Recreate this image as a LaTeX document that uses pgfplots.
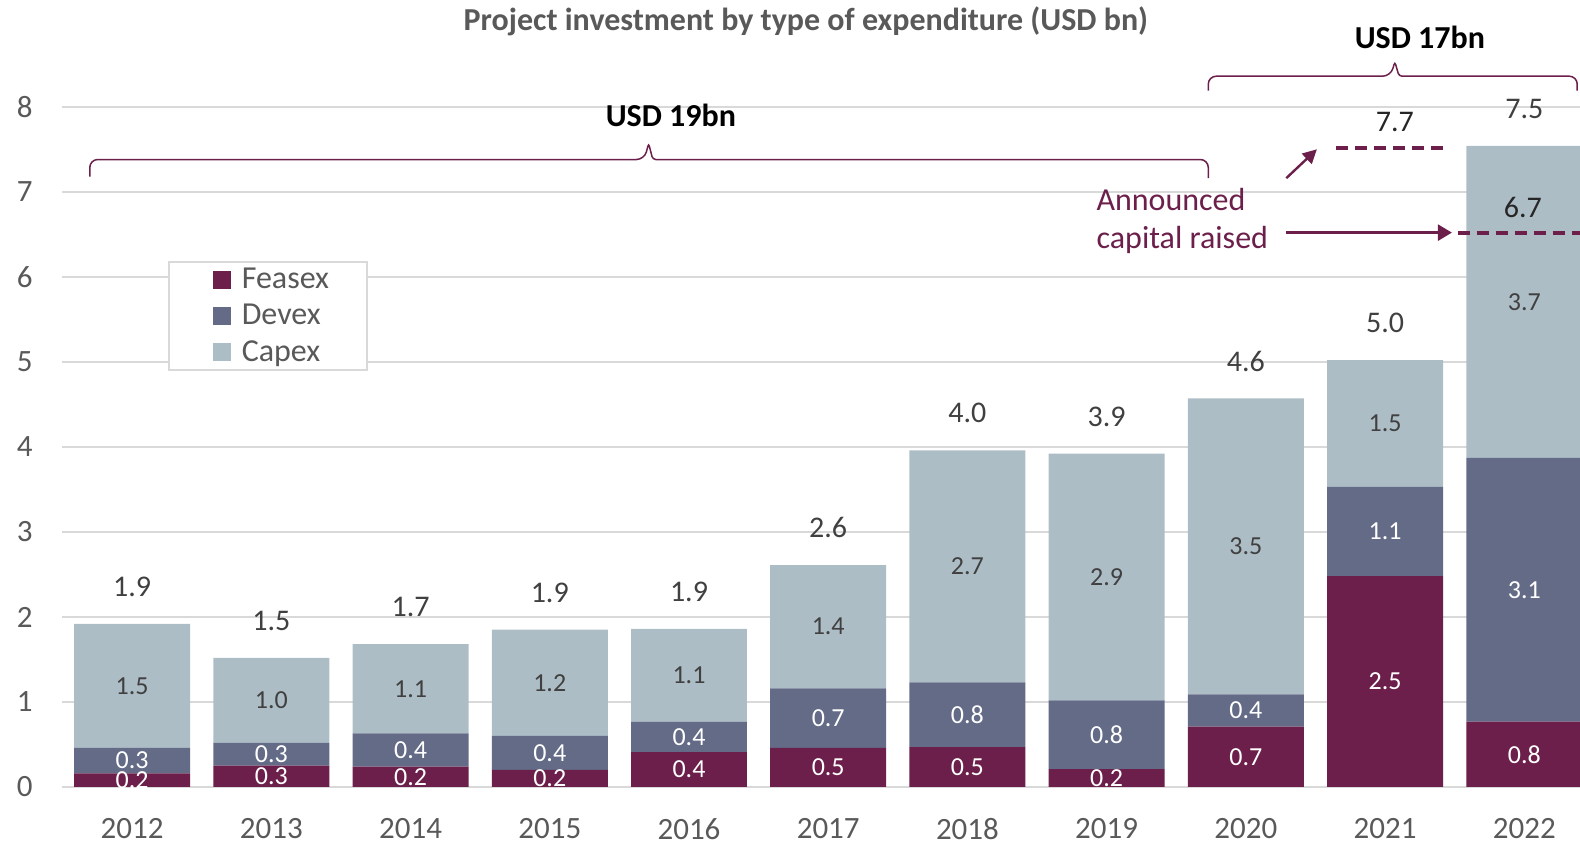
\documentclass[border=0pt]{standalone}
\usepackage{fontspec}
\setmainfont{Carlito}
\usepackage{pgfplots}
\pgfplotsset{compat=1.18}
\usepackage{pgfplotstable}
\usetikzlibrary{arrows.meta}
\definecolor{feas}{HTML}{6B1F4A}
\definecolor{dev}{HTML}{636B87}
\definecolor{cap}{HTML}{ADBDC6}
\definecolor{gridc}{HTML}{D9D9D9}
\definecolor{txt}{HTML}{595959}
\definecolor{dark}{HTML}{404040}

\pgfplotstableread{
x f lf d ld c lc z lt
0 0.16 0.2 0.30 0.3 1.46 1.5 0.001 1.9
1 0.25 0.3 0.27 0.3 1.00 1.0 0.001 1.5
2 0.24 0.2 0.39 0.4 1.05 1.1 0.001 1.7
3 0.20 0.2 0.40 0.4 1.25 1.2 0.001 1.9
4 0.41 0.4 0.36 0.4 1.09 1.1 0.001 1.9
5 0.46 0.5 0.70 0.7 1.45 1.4 0.001 2.6
6 0.47 0.5 0.76 0.8 2.73 2.7 0.001 4.0
7 0.21 0.2 0.81 0.8 2.90 2.9 0.001 3.9
8 0.71 0.7 0.38 0.4 3.48 3.5 0.001 4.6
9 2.48 2.5 1.05 1.1 1.49 1.5 0.001 5.0
10 0.77 0.8 3.10 3.1 3.67 3.7 0.001 7.5
}\data

\begin{document}
\begin{tikzpicture}
\useasboundingbox (0,0) rectangle (790pt,422.5pt);
\begin{axis}[
  at={(31.25pt,29pt)}, anchor=south west,
  scale only axis, width=758.75pt, height=340.1pt,
  xmin=-0.5, xmax=10.4, ymin=0, ymax=8,
  ybar stacked, bar width=0.833,
  axis line style={draw=none}, major tick length=0pt,
  ytick={0,...,8}, xtick={0,...,10},
  xticklabels={2012,2013,2014,2015,2016,2017,2018,2019,2020,2021,2022},
  ymajorgrids, grid style={gridc, line width=0.9pt},
  tick label style={font=\fontsize{15.5}{18}\selectfont, text=txt},
  /pgf/number format/assume math mode=true,
  yticklabel style={anchor=east, inner sep=0pt, xshift=-14.7pt},
  xticklabel style={anchor=north, inner sep=0pt, yshift=-15.6pt},
  clip=false,
  legend image code/.code={\path (0pt,0pt) (17.5pt,0pt); \fill[#1] (5.5pt,-4.5pt) rectangle (14.5pt,4.5pt);},
  legend style={at={(0.0695,0.773)}, anchor=north west, draw=gridc, line width=0.8pt,
    font=\fontsize{16}{19}\selectfont, text=txt, inner xsep=16.5pt, inner ysep=1pt,
    row sep=2.3pt, nodes={inner xsep=2.5pt, inner ysep=2pt}},
  legend cell align=left,
  nodes near coords, point meta=explicit symbolic,
]
\addplot[fill=feas, draw=none,
  every node near coord/.append style={anchor=center, text=white, font=\fontsize{13}{15}\selectfont}]
  table[x=x, y=f, meta=lf] {\data};
\addplot[fill=dev, draw=none,
  every node near coord/.append style={anchor=center, text=white, font=\fontsize{13}{15}\selectfont}]
  table[x=x, y=d, meta=ld] {\data};
\addplot[fill=cap, draw=none,
  every node near coord/.append style={anchor=center, text=dark, font=\fontsize{13}{15}\selectfont}]
  table[x=x, y=c, meta=lc] {\data};
\addplot[fill=none, draw=none,
  every node near coord/.append style={anchor=center, yshift=18.6pt, text=dark, font=\fontsize{15}{18}\selectfont}]
  table[x=x, y=z, meta=lt] {\data};
\legend{Feasex,Devex,Capex}
\end{axis}
% annotations in the axis' own units (x: 69.61pt per year, y: 42.51pt per USD bn)
\begin{scope}[shift={(66.055pt,29pt)}, x=69.61pt, y=42.5125pt]
\node[font=\fontsize{16}{19}\selectfont\bfseries, text=txt] at (4.84,9.0) {Project investment by type of expenditure (USD bn)};
\draw[feas, line width=0.75pt, rounded corners=4pt]
  (-0.304,7.18) -- (-0.304,7.38) -- (3.68,7.38) [rounded corners=1.5pt] -- (3.71,7.57) -- (3.74,7.38) [rounded corners=4pt] -- (7.73,7.38) -- (7.73,7.16);
\node[font=\fontsize{16}{19}\selectfont\bfseries, text=black] at (3.87,7.90) {USD 19bn};
\draw[feas, line width=0.75pt, rounded corners=4pt]
  (7.73,8.19) -- (7.73,8.36) -- (9.04,8.36) [rounded corners=1.5pt] -- (9.07,8.53) -- (9.10,8.36) [rounded corners=4pt] -- (10.38,8.36) -- (10.38,8.19);
\node[font=\fontsize{16}{19}\selectfont\bfseries, text=black] at (9.25,8.82) {USD 17bn};
\draw[feas, line width=2pt, dash pattern=on 6pt off 3.5pt] (8.65,7.51) -- (9.44,7.51);
\draw[feas, line width=2pt, dash pattern=on 6pt off 3.5pt] (9.52,6.52) -- (10.4,6.52);
\node[font=\fontsize{15}{18}\selectfont, text=black!85] at (9.07,7.82) {7.7};
\node[font=\fontsize{15}{18}\selectfont, text=black!85] at (9.99,6.82) {6.7};
\node[anchor=west, align=left, font=\fontsize{16}{19}\selectfont, text=feas] at (6.877,6.655) {Announced\\capital raised};
\draw[feas, line width=1.2pt, -{Triangle[length=7pt,width=7pt]}] (8.29,7.16) -- (8.51,7.50);
\draw[feas, line width=1.2pt, -{Triangle[length=7pt,width=8pt]}] (8.29,6.52) -- (9.48,6.52);
\end{scope}
\end{tikzpicture}
\end{document}
